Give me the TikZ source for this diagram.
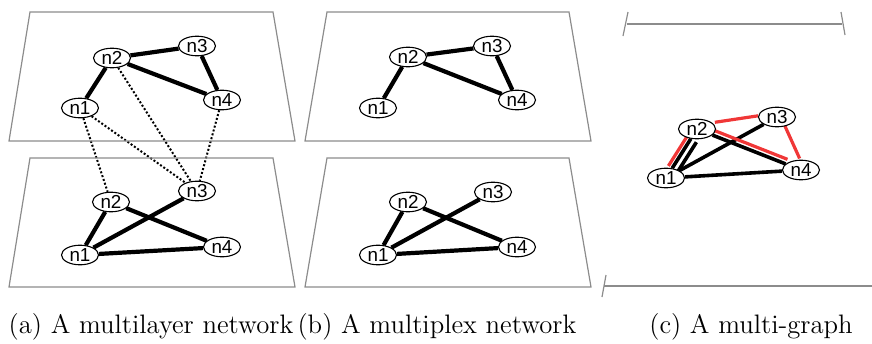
\documentclass[tikz,border=0pt]{standalone}
\usepackage{fontspec}
\newfontfamily\nodefont{Liberation Sans}
\usetikzlibrary{shapes.geometric,backgrounds}
\definecolor{planegray}{RGB}{140,140,140}
\definecolor{edgered}{RGB}{240,55,55}
\tikzset{
 nd/.style={ellipse, draw, fill=white, line width=0.55pt, minimum width=18.5pt, minimum height=9.8pt, inner sep=0pt, font=\nodefont\fontsize{9.4}{9.5}\selectfont},
 edge/.style={line width=2.1pt},
 inter/.style={line width=1pt, dash pattern=on 1pt off 1pt},
 plane/.style={draw=planegray, line width=0.6pt},
 cedge/.style={line width=1.8pt},
 credge/.style={line width=1.6pt, draw=edgered},
 captext/.style={anchor=base, font=\fontsize{13.35}{16}\selectfont},
}
\begin{document}
\begin{tikzpicture}[x=0.5pt,y=-0.5pt]
\useasboundingbox (0,0) rectangle (872,343);
% planes
\draw[plane] (30,12) -- (273,12) -- (295,141) -- (9,141) -- cycle;
\draw[plane] (30,158) -- (273,158) -- (295,287) -- (9,287) -- cycle;
\draw[plane] (327,12) -- (569,12) -- (591,141) -- (305,141) -- cycle;
\draw[plane] (327,158) -- (569,158) -- (591,287) -- (305,287) -- cycle;
% panel c brackets
\draw[plane] (627,24) -- (842,24);
\draw[plane] (628,12) -- (623,36);
\draw[plane] (841,12) -- (845,35);
\draw[plane] (604,286) -- (872,286);
\draw[plane] (606,275) -- (602,297);
% panel a nodes
\node[nd] (a1) at (80,108) {n1};
\node[nd] (a2) at (112,58) {n2};
\node[nd] (a3) at (197,46) {n3};
\node[nd] (a4) at (222,100) {n4};
\node[nd] (b1) at (80,255) {n1};
\node[nd] (b2) at (111,202) {n2};
\node[nd] (b3) at (197,191) {n3};
\node[nd] (b4) at (222,247) {n4};
% panel b nodes
\node[nd] (p1) at (378,108) {n1};
\node[nd] (p2) at (408,57) {n2};
\node[nd] (p3) at (492,46) {n3};
\node[nd] (p4) at (517,100) {n4};
\node[nd] (q1) at (378,255) {n1};
\node[nd] (q2) at (408,202) {n2};
\node[nd] (q3) at (493,192) {n3};
\node[nd] (q4) at (517,247) {n4};
% panel c nodes
\node[nd] (c1) at (666,178) {n1};
\node[nd] (c2) at (697,129) {n2};
\node[nd] (c3) at (777,117) {n3};
\node[nd] (c4) at (801,170) {n4};
% captions
\node[captext] (capa) at (151,333) {(a) A multilayer network};
\node[captext] (capb) at (437,333) {(b) A multiplex network};
\node[captext] (capc) at (751,333) {(c) A multi-graph};
\begin{pgfonlayer}{background}
% panel a
\draw[edge] (a1) -- (a2);
\draw[edge] (a2) -- (a3);
\draw[edge] (a2) -- (a4);
\draw[edge] (a3) -- (a4);
\draw[edge] (b1) -- (b2);
\draw[edge] (b1) -- (b3);
\draw[edge] (b1) -- (b4);
\draw[edge] (b2) -- (b4);
\draw[inter] (a2) -- (b3);
\draw[inter] (a1) -- (b2);
\draw[inter] (a1) -- (b3);
\draw[inter] (a4) -- (b3);
% panel b
\draw[edge] (p1) -- (p2);
\draw[edge] (p2) -- (p3);
\draw[edge] (p2) -- (p4);
\draw[edge] (p3) -- (p4);
\draw[edge] (q1) -- (q2);
\draw[edge] (q1) -- (q3);
\draw[edge] (q1) -- (q4);
\draw[edge] (q2) -- (q4);
% panel c
\draw[cedge] (c1) -- (c2);
\draw[cedge, transform canvas={xshift=2.8pt,yshift=-1.7pt}] (c1) -- (c2);
\draw[cedge] (c1) -- (c3);
\draw[cedge] (c1) -- (c4);
\draw[cedge] (c2) -- (c4);
\draw[credge, transform canvas={xshift=-1.9pt,yshift=1.15pt}] (c1) -- (c2);
\draw[credge, transform canvas={xshift=-0.25pt,yshift=1.98pt}] (c2) -- (c3);
\draw[credge, transform canvas={xshift=0.95pt,yshift=2.3pt}] (c2) -- (c4);
\draw[credge, transform canvas={xshift=1.58pt,yshift=0.75pt}] (c3) -- (c4);
\end{pgfonlayer}
\end{tikzpicture}
\end{document}
